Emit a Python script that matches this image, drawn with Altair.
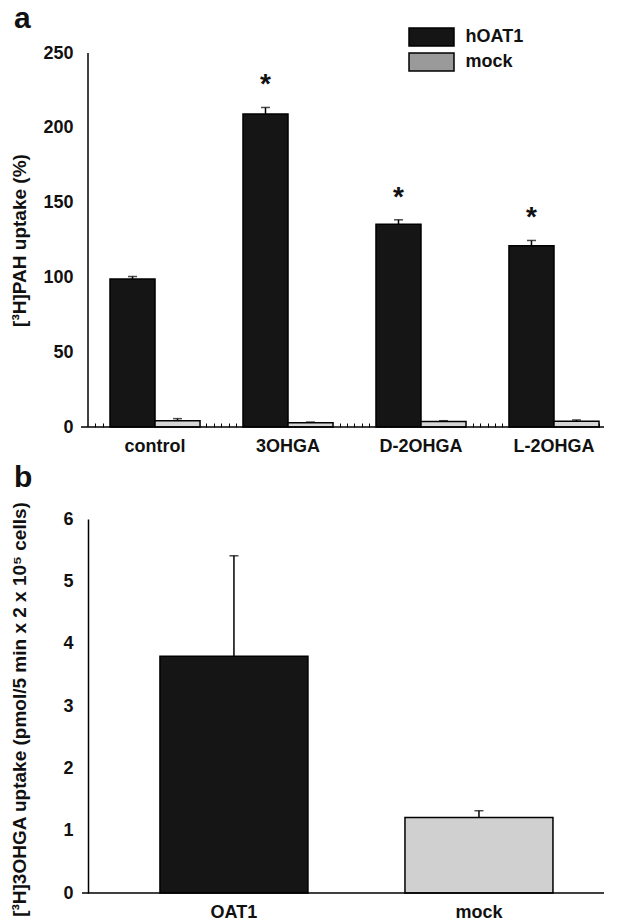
import altair as alt
import pandas as pd

# ---------------- data ----------------
categories = ["control", "3OHGA", "D-2OHGA", "L-2OHGA"]
hoat1 = [99.0, 209.2, 135.6, 121.1]
hoat1_err = [100.6, 213.6, 138.5, 124.7]
mock = [4.2, 2.9, 3.6, 3.8]
mock_err = [5.6, 3.3, 4.2, 4.7]
significant = [False, True, True, True]

groups_b = ["OAT1", "mock"]
uptake_b = [3.8, 1.21]
uptake_b_err = [5.41, 1.32]

series = ["hOAT1", "mock"]
panel_labels = ["a", "b"]
FONT = "Liberation Sans"
W = 516

rows = []
for i, c in enumerate(categories):
    rows.append({"cat": c, "series": "hOAT1", "v": hoat1[i], "e": hoat1_err[i], "sig": significant[i]})
    rows.append({"cat": c, "series": "mock", "v": mock[i], "e": mock_err[i], "sig": False})
dfa = pd.DataFrame(rows)
dfb = pd.DataFrame({"g": groups_b, "v": uptake_b, "e": uptake_b_err})


def panel_letter(letter, y_px):
    return alt.Chart(pd.DataFrame({"lab": [letter]})).mark_text(
        font=FONT, fontSize=30, fontWeight="bold", baseline="alphabetic", align="left", color="#111"
    ).encode(text="lab:N", x=alt.value(-74), y=alt.value(y_px))


# ---------------- panel a ----------------
xa_scale = alt.Scale(paddingInner=0.323, paddingOuter=0.1015, align=0.815)
xa = alt.X("cat:N", sort=categories, title=None, scale=xa_scale,
           axis=alt.Axis(domain=False, ticks=False, labelAngle=0, labelPadding=10))
ya_scale = alt.Scale(domain=[0, 267.4], nice=False, zero=True)
off = alt.XOffset("series:N", sort=series, scale=alt.Scale(paddingInner=0, paddingOuter=0))

base_a = alt.Chart(dfa)
bars_a = base_a.mark_bar(stroke="black", strokeWidth=1.5).encode(
    x=xa,
    xOffset=off,
    y=alt.Y("v:Q", scale=ya_scale,
            axis=alt.Axis(values=[0, 50, 100, 150, 200, 250], format="d", domain=False, ticks=False,
                          grid=False, labelPadding=15, title="[³H]PAH uptake (%)",
                          titlePadding=13, titleY=213)),
    fill=alt.Fill("series:N", sort=series,
                  scale=alt.Scale(domain=series, range=["#151515", "#d6d6d6"]), legend=None),
)
legend_a = base_a.transform_filter("false").mark_bar(strokeWidth=0).encode(
    x=alt.X("cat:N", sort=categories), xOffset=off,
    y=alt.Y("v:Q", scale=ya_scale),
    fill=alt.Fill("series:N", sort=series,
                  scale=alt.Scale(domain=series, range=["#151515", "#9a9a9a"]),
                  legend=alt.Legend(
                      title=None, orient="none", legendX=333.5, legendY=0,
                      symbolType="M-2.5,-1H2.5V1H-2.5Z", symbolSize=324,
                      symbolStrokeColor="black", symbolStrokeWidth=1.5, symbolOpacity=1,
                      labelFont=FONT, labelFontSize=18, labelFontWeight="bold",
                      labelColor="#111", labelOffset=24, rowPadding=1, padding=0)),
)
err_a = base_a.mark_rule(color="black", strokeWidth=1.5).encode(
    x=alt.X("cat:N", sort=categories), xOffset=off,
    y=alt.Y("v:Q", scale=ya_scale), y2="e:Q")
cap_a = base_a.mark_tick(color="black", thickness=1.5, size=9).encode(
    x=alt.X("cat:N", sort=categories), xOffset=off,
    y=alt.Y("e:Q", scale=ya_scale))
stars_a = base_a.transform_filter("datum.sig").mark_text(
    text="*", font=FONT, fontSize=28, fontWeight="bold", baseline="alphabetic", dy=-14, color="#111"
).encode(x=alt.X("cat:N", sort=categories), xOffset=off, y=alt.Y("e:Q", scale=ya_scale))

yaxis_a = alt.Chart(pd.DataFrame({"lo": [0], "hi": [250]})).mark_rule(color="black", strokeWidth=1.5).encode(
    x=alt.value(0), y=alt.Y("lo:Q", scale=ya_scale), y2="hi:Q")
xaxis_a = alt.Chart(pd.DataFrame({"lo": [0]})).mark_rule(color="black", strokeWidth=1.5).encode(
    x=alt.value(-7), x2=alt.value(W), y=alt.Y("lo:Q", scale=ya_scale))

minor = alt.Chart(pd.DataFrame({"t": [0]})).mark_rule(opacity=0).encode(
    x=alt.X("t:Q", scale=alt.Scale(domain=[0, W / 7.4], nice=False, zero=True),
            axis=alt.Axis(orient="top", offset=-400, values=list(range(1, 70)), labels=False,
                          domain=False, ticks=True, tickSize=4, tickColor="black", tickWidth=1,
                          grid=False, title=None, minExtent=0, maxExtent=0)))

inner_a = alt.layer(bars_a, legend_a, err_a, cap_a, stars_a, yaxis_a, xaxis_a,
                    panel_letter(panel_labels[0], 1)).resolve_scale(fill="independent")
panel_a = alt.layer(minor, inner_a).resolve_scale(x="independent").properties(width=W, height=400)

# ---------------- panel b ----------------
xb = alt.X("g:N", sort=groups_b, title=None,
           scale=alt.Scale(paddingInner=0.396, paddingOuter=0.251, align=0.585),
           axis=alt.Axis(domain=False, ticks=False, labelAngle=0, labelPadding=10))
yb_scale = alt.Scale(domain=[0, 6], nice=False)
base_b = alt.Chart(dfb)
bars_b = base_b.mark_bar(stroke="black", strokeWidth=1.5).encode(
    x=xb,
    y=alt.Y("v:Q", scale=yb_scale,
            axis=alt.Axis(values=[0, 1, 2, 3, 4, 5, 6], format="d", domain=True, domainColor="black",
                          domainWidth=1.5, ticks=False, grid=False, labelPadding=15,
                          title="[³H]3OHGA uptake (pmol/5 min x 2 x 10⁵ cells)", titlePadding=33,
                          titleY=190)),
    fill=alt.Fill("g:N", sort=groups_b, scale=alt.Scale(domain=groups_b, range=["#151515", "#d0d0d0"]),
                  legend=None),
)
err_b = base_b.mark_rule(color="black", strokeWidth=1.5).encode(
    x=alt.X("g:N", sort=groups_b), y=alt.Y("v:Q", scale=yb_scale), y2="e:Q")
cap_b = base_b.mark_tick(color="black", thickness=1.5, size=9).encode(
    x=alt.X("g:N", sort=groups_b), y=alt.Y("e:Q", scale=yb_scale))
xaxis_b = alt.Chart(pd.DataFrame({"lo": [0]})).mark_rule(color="black", strokeWidth=1.5).encode(
    x=alt.value(-6), x2=alt.value(W), y=alt.Y("lo:Q", scale=yb_scale))

panel_b = alt.layer(bars_b, err_b, cap_b, xaxis_b, panel_letter(panel_labels[1], -32)).properties(
    width=W, height=374)

chart = alt.vconcat(panel_a, panel_b, spacing=8).configure_axis(
    labelFont=FONT, labelFontSize=18, labelFontWeight="bold", labelColor="#111",
    titleFont=FONT, titleFontSize=19, titleFontWeight="bold", titleColor="#111",
).configure_view(stroke=None).properties(padding={"top": -4, "left": 2, "right": 0, "bottom": 5})

chart.save("out.html", embed_options={"renderer": "svg", "actions": False})
